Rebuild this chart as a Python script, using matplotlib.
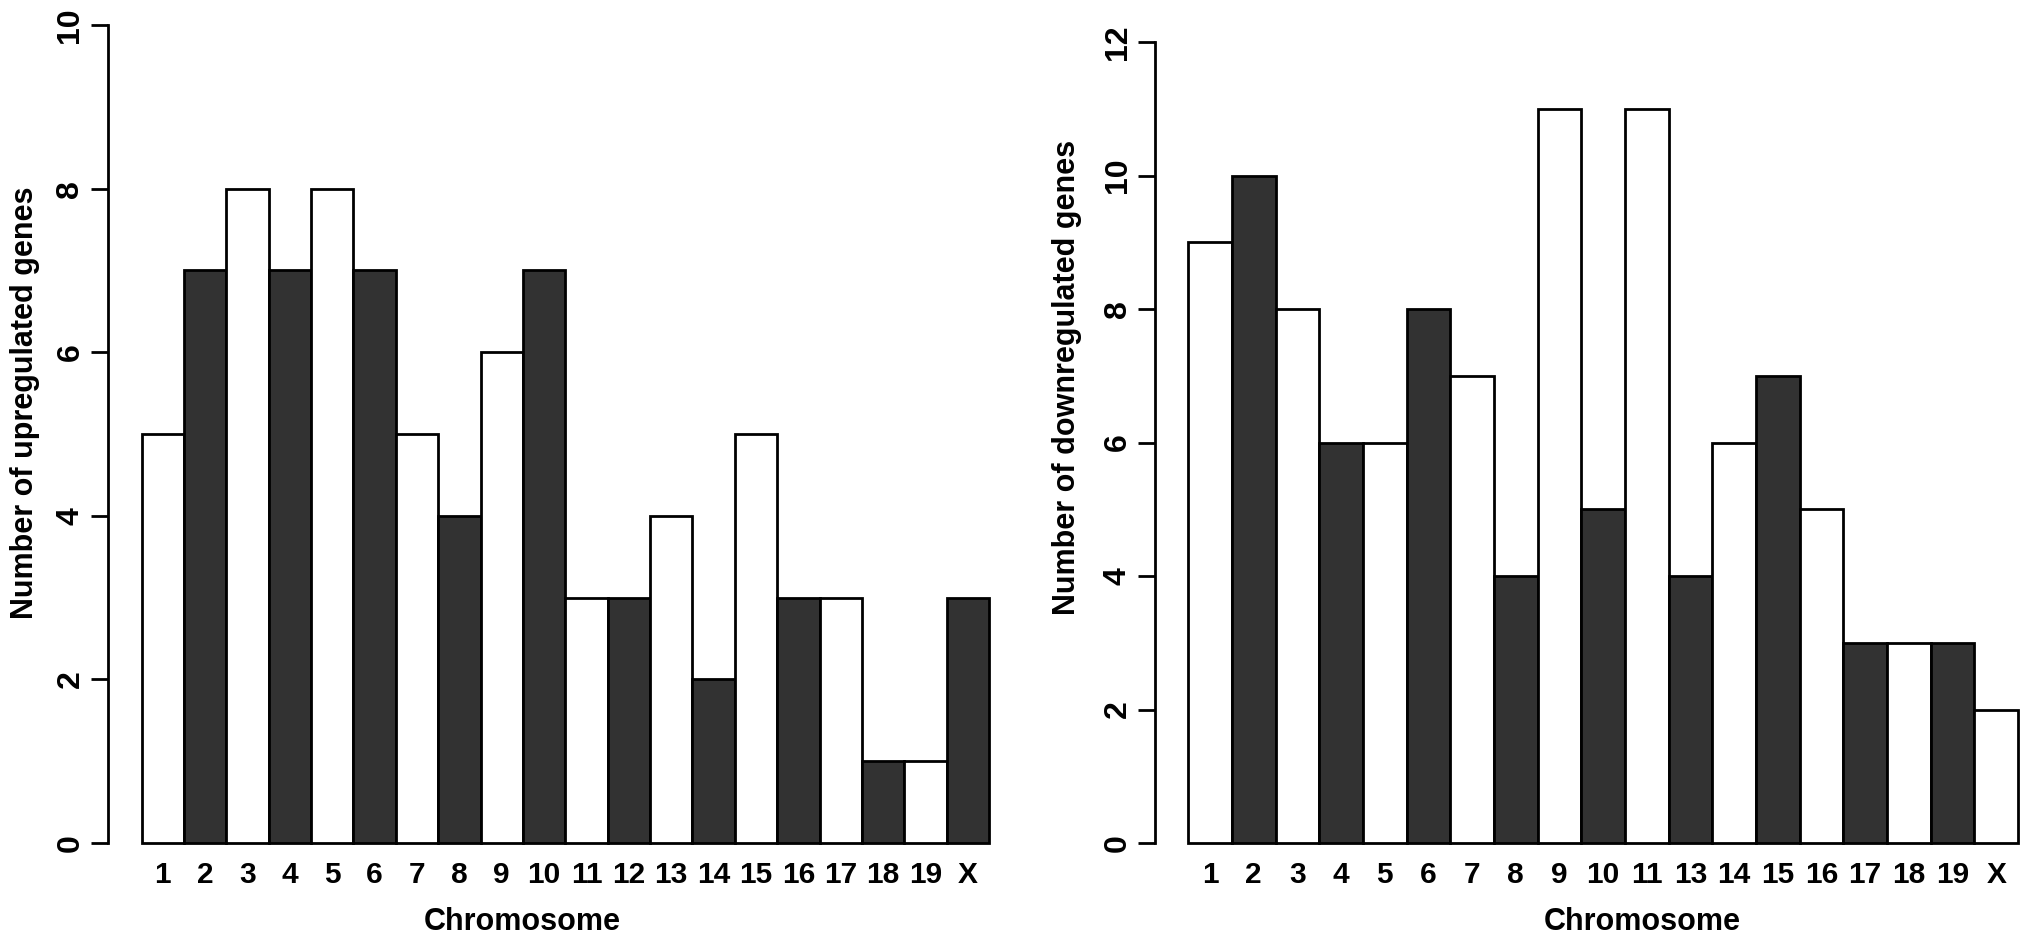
import numpy as np
import matplotlib
matplotlib.use("Agg")
import matplotlib.pyplot as plt

# data
up_chrom = ["1", "2", "3", "4", "5", "6", "7", "8", "9", "10",
            "11", "12", "13", "14", "15", "16", "17", "18", "19", "X"]
up_genes = [5, 7, 8, 7, 8, 7, 5, 4, 6, 7, 3, 3, 4, 2, 5, 3, 3, 1, 1, 3]

down_chrom = ["1", "2", "3", "4", "5", "6", "7", "8", "9", "10",
              "11", "13", "14", "15", "16", "17", "18", "19", "X"]
down_genes = [9, 10, 8, 6, 6, 8, 7, 4, 11, 5, 11, 4, 6, 7, 5, 3, 3, 3, 2]

W, H = 2031, 947
DARK = "#323232"
FONT = ["Liberation Sans", "DejaVu Sans"]
NARROW = ["Liberation Sans Narrow", "Liberation Sans", "DejaVu Sans"]
plt.rcParams["font.family"] = FONT

fig = plt.figure(figsize=(W / 100, H / 100), dpi=100)


def panel(left_px, bar_w, top_px, ymax, labels, values, ylabel, ylab_xy, xlab_xy):
    n = len(values)
    pad = 0.04 * n
    x0 = left_px / W
    w = (n + 2 * pad) * bar_w / W
    base = 843
    y0 = (H - base) / H
    h = (base - top_px) / H
    ax = fig.add_axes([x0, y0, w, h])
    colors = ["white" if i % 2 == 0 else DARK for i in range(n)]
    ax.bar(np.arange(n), values, width=1.0, align="edge", color=colors,
           edgecolor="black", linewidth=2.0, clip_on=False)
    ax.set_xlim(-pad, n + pad)
    ax.set_ylim(0, ymax)
    for s in ["top", "right", "bottom"]:
        ax.spines[s].set_visible(False)
    ax.spines["left"].set_linewidth(2.0)
    ax.spines["left"].set_bounds(0, ymax)
    ax.set_yticks(np.arange(0, ymax + 1, 2))
    ax.tick_params(axis="y", length=12, width=2.0, pad=4)
    for t in ax.get_yticklabels():
        t.set_rotation(90)
        t.set_va("center")
        t.set_fontweight("bold")
        t.set_family(NARROW)
        t.set_fontsize(23)
    ax.set_xticks(np.arange(n) + 0.5)
    ax.set_xticklabels(labels, fontsize=21.5, fontweight="bold")
    ax.tick_params(axis="x", length=0, pad=13)
    fig.text(ylab_xy[0] / W, 1 - ylab_xy[1] / H, ylabel, rotation=90,
             ha="center", va="center", fontsize=22, fontweight="bold")
    fig.text(xlab_xy[0] / W, 1 - xlab_xy[1] / H, "Chromosome",
             ha="center", va="center", fontsize=22, fontweight="bold")
    return ax


panel(107.7, 42.37, 25, 10, up_chrom, up_genes,
      "Number of upregulated genes", (25, 403), (522, 922))
panel(1155, 43.68, 42, 12, down_chrom, down_genes,
      "Number of downregulated genes", (1067, 377), (1642, 922))

fig.savefig("out.png", dpi=100)
